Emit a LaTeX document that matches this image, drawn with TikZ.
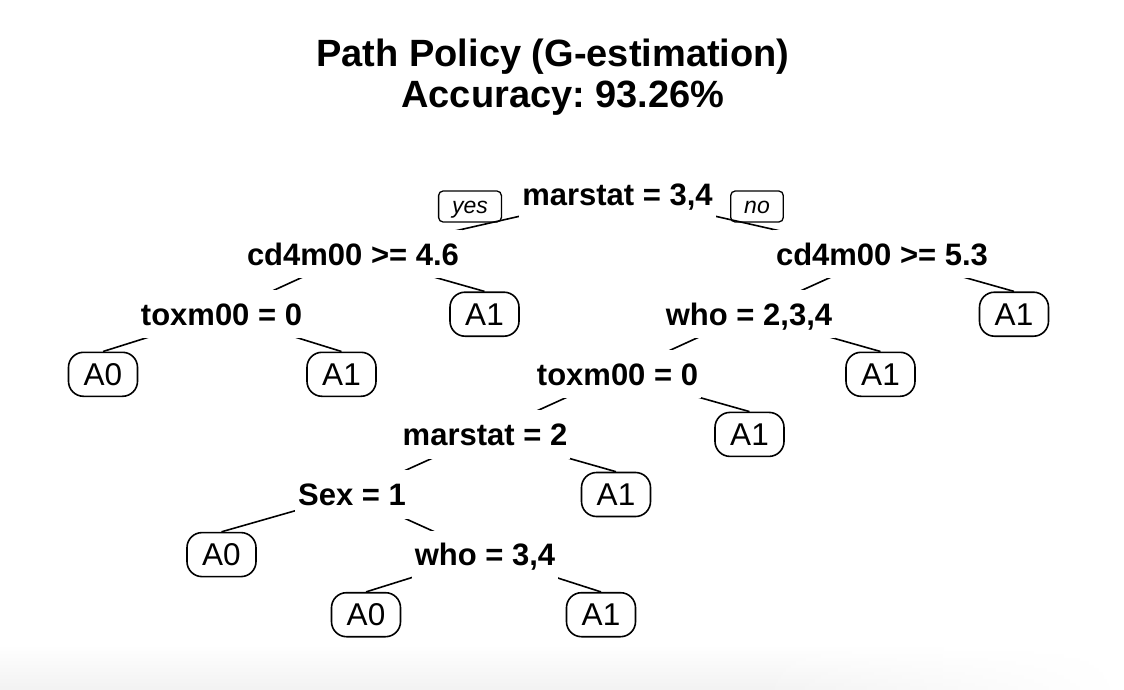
\documentclass[tikz,border=0pt]{standalone}
\usepackage{fontspec}
\setmainfont{Liberation Sans}
\usetikzlibrary{fadings}
\pgfdeclarelayer{bg}
\pgfsetlayers{bg,main}
\begin{document}
\frenchspacing
\begin{tikzpicture}[x=1pt,y=-1pt,
  split/.style={font=\bfseries\fontsize{31}{31}\selectfont, fill=white,
    text height=22.2pt, text depth=0pt, inner xsep=3pt, inner ysep=13pt},
  leaf/.style={draw, fill=white, line width=1.6pt, rounded corners=15pt,
    font=\fontsize{31.5}{31.5}\selectfont, text height=22.2pt, text depth=0pt,
    minimum width=69pt, minimum height=44pt, inner sep=0pt},
  yn/.style={draw, line width=1.3pt, rounded corners=4.5pt, anchor=base,
    font=\itshape\fontsize{23}{23}\selectfont, text height=19pt,
    text depth=6pt, inner xsep=13.5pt, inner ysep=3pt},
  titl/.style={font=\bfseries\fontsize{38}{38}\selectfont, anchor=base},
  branch/.style={line width=1.6pt}]
\useasboundingbox (0,0) rectangle (1124,690);
% faint bottom shadow
\shade[top color=white, bottom color=black!5, draw=none] (0,645) rectangle (760,690);
\shade[top color=white, bottom color=black!5, draw=none, path fading=east] (760,645) rectangle (1124,690);
% titles
\node[titl] (t1) at (553,67) {Path Policy (G-estimation)};
\node[titl] (t2) at (563,108) {Accuracy: 93.26\%};
% rows: y = 194 + 60.1 k
\node[split] (m0) at (617.5,194) {marstat = 3,4};
\node[yn] (yes) at (470,213) {yes};
\node[yn] (no) at (757,213) {no};
\node[split] (c1) at (353,254.1) {cd4m00 >= 4.6};
\node[split] (c2) at (882,254.1) {cd4m00 >= 5.3};
\node[split] (x1) at (221.5,314.2) {toxm00 = 0};
\node[leaf]  (l1) at (484.5,314.2) {A1};
\node[split] (w1) at (749,314.2) {who = 2,3,4};
\node[leaf]  (l2) at (1014,314.2) {A1};
\node[leaf]  (l3) at (103,374.3) {A0};
\node[leaf]  (l4) at (341.5,374.3) {A1};
\node[split] (x2) at (617.5,374.3) {toxm00 = 0};
\node[leaf]  (l5) at (880.5,374.3) {A1};
\node[split] (m2) at (485,434.4) {marstat = 2};
\node[leaf]  (l6) at (749.5,434.4) {A1};
\node[split] (s1) at (352,494.5) {Sex = 1};
\node[leaf]  (l7) at (616,494.5) {A1};
\node[leaf]  (l8) at (221.5,554.6) {A0};
\node[split] (w2) at (485,554.6) {who = 3,4};
\node[leaf]  (l9) at (366,614.7) {A0};
\node[leaf]  (l10) at (601,614.7) {A1};
\begin{pgfonlayer}{bg}
\draw[branch] (m0.center) -- (c1.center);
\draw[branch] (m0.center) -- (c2.center);
\draw[branch] (c1.center) -- (x1.center);
\draw[branch] (c1.center) -- (l1.north);
\draw[branch] (c2.center) -- (w1.center);
\draw[branch] (c2.center) -- (l2.north);
\draw[branch] (x1.center) -- (l3.north);
\draw[branch] (x1.center) -- (l4.north);
\draw[branch] (w1.center) -- (x2.center);
\draw[branch] (w1.center) -- (l5.north);
\draw[branch] (x2.center) -- (m2.center);
\draw[branch] (x2.center) -- (l6.north);
\draw[branch] (m2.center) -- (s1.center);
\draw[branch] (m2.center) -- (l7.north);
\draw[branch] (s1.center) -- (l8.north);
\draw[branch] (s1.center) -- (w2.center);
\draw[branch] (w2.center) -- (l9.north);
\draw[branch] (w2.center) -- (l10.north);
\end{pgfonlayer}
\end{tikzpicture}
\end{document}
